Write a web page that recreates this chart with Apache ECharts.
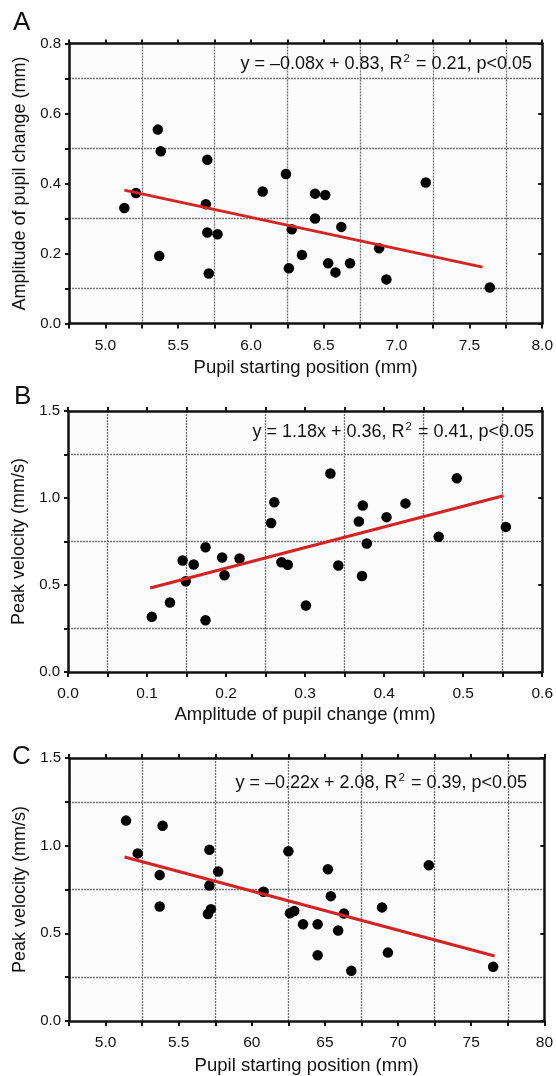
<!DOCTYPE html>
<html><head><meta charset="utf-8">
<script src="https://cdn.jsdelivr.net/npm/echarts@6/dist/echarts.min.js"></script>
<style>html,body{margin:0;padding:0;background:#fff}#c{width:556px;height:1076px}</style>
</head><body><div id="c"></div>
<script>
// ---------- Panel A: pupil starting position vs amplitude of pupil change ----------
const aStart = [5.13,5.21,5.36,5.38,5.37,5.70,5.69,5.70,5.77,5.71,6.08,6.24,6.28,6.26,6.35,6.44,6.51,6.44,6.62,6.53,6.58,6.68,6.88,6.93,7.20,7.64];
const aAmplitude = [0.330,0.373,0.554,0.492,0.193,0.468,0.341,0.260,0.255,0.143,0.377,0.427,0.269,0.158,0.196,0.371,0.367,0.300,0.276,0.172,0.146,0.172,0.215,0.126,0.403,0.103];
const aFitX = [5.13, 7.59];
const aFitY = [0.381, 0.161];
const aXTickValues = [5.0,5.5,6.0,6.5,7.0,7.5,8.0];
const aXTickLabels = ['5.0','5.5','6.0','6.5','7.0','7.5','8.0'];
const aYTickValues = [0.0,0.2,0.4,0.6,0.8];
const aYTickLabels = ['0.0','0.2','0.4','0.6','0.8'];

// ---------- Panel B: amplitude vs peak velocity ----------
const bAmplitude = [0.106,0.129,0.145,0.149,0.159,0.174,0.174,0.195,0.198,0.217,0.257,0.261,0.270,0.278,0.301,0.332,0.342,0.368,0.373,0.372,0.378,0.403,0.427,0.469,0.492,0.554];
const bVelocity = [0.317,0.399,0.641,0.522,0.618,0.717,0.297,0.658,0.556,0.652,0.856,0.976,0.631,0.616,0.382,1.141,0.612,0.865,0.957,0.552,0.739,0.890,0.969,0.777,1.113,0.834];
const bFitX = [0.104, 0.551];
const bFitY = [0.483, 1.013];
const bXTickValues = [0.0,0.1,0.2,0.3,0.4,0.5,0.6];
const bXTickLabels = ['0.0','0.1','0.2','0.3','0.4','0.5','0.6'];
const bYTickValues = [0.0,0.5,1.0,1.5];
const bYTickLabels = ['0.0','0.5','1.0','1.5'];

// ---------- Panel C: pupil starting position vs peak velocity ----------
const cStart = [5.14,5.22,5.39,5.37,5.37,5.71,5.71,5.70,5.72,5.77,6.08,6.25,6.26,6.29,6.35,6.45,6.45,6.52,6.54,6.59,6.63,6.68,6.89,6.93,7.21,7.65];
const cVelocity = [1.143,0.956,1.114,0.832,0.653,0.977,0.773,0.610,0.638,0.853,0.737,0.968,0.615,0.627,0.552,0.552,0.375,0.865,0.712,0.516,0.613,0.286,0.648,0.390,0.888,0.309];
const cFitX = [5.13, 7.66];
const cFitY = [0.935, 0.371];
const cXTickValues = [5.0,5.5,6.0,6.5,7.0,7.5,8.0];
const cXTickLabels = ['5.0','5.5','60','65','70','75','80'];
const cYTickValues = [0.0,0.5,1.0,1.5];
const cYTickLabels = ['0.0','0.5','1.0','1.5'];

const panelLetters = ['A','B','C'];
const eqLeft = ['y = \u20130.08x + 0.83, R', 'y = 1.18x + 0.36, R', 'y = \u20130.22x + 2.08, R'];
const eqRight = [' = 0.21, p<0.05', ' = 0.41, p<0.05', ' = 0.39, p<0.05'];
const xNames = ['Pupil starting position (mm)','Amplitude of pupil change (mm)','Pupil starting position (mm)'];
const yNames = ['Amplitude of pupil change (mm)','Peak velocity (mm/s)','Peak velocity (mm/s)'];

const FONT = '"Liberation Sans", Arial, Helvetica, sans-serif';
const INK = '#111';
const GRIDC = '#737373';

function zip(xs, ys){ return xs.map((x,i)=>[x, ys[i]]); }
function labeler(vals, labels){
  return function(v){
    for (let i=0;i<vals.length;i++){ if (Math.abs(v-vals[i])<1e-6) return labels[i]; }
    return '';
  };
}

const panels = [
  {grid:{left:69,top:43.5,width:477,height:280},
   x:{min:4.75,max:8.0,interval:0.25,split:[GRIDC,'transparent'],tv:aXTickValues,tl:aXTickLabels,gap:35},
   y:{min:0,max:0.8,interval:0.1,split:['transparent',GRIDC],rint:0.2,tv:aYTickValues,tl:aYTickLabels,gap:34},
   pts:zip(aStart,aAmplitude), fit:zip(aFitX,aFitY),
   letter:{x:13,y:23}, eq:{x:532,y:64}},
  {grid:{left:68,top:411,width:478,height:261},
   x:{min:0,max:0.6,interval:0.05,split:['transparent',GRIDC],tv:bXTickValues,tl:bXTickLabels,gap:33},
   y:{min:0,max:1.5,interval:0.25,split:['transparent',GRIDC],rint:0.5,tv:bYTickValues,tl:bYTickLabels,gap:34},
   pts:zip(bAmplitude,bVelocity), fit:zip(bFitX,bFitY),
   letter:{x:14,y:397}, eq:{x:534,y:432}},
  {grid:{left:69,top:758,width:478,height:264},
   x:{min:4.75,max:8.0,interval:0.25,split:[GRIDC,'transparent'],tv:cXTickValues,tl:cXTickLabels,gap:35},
   y:{min:0,max:1.5,interval:0.25,split:['transparent',GRIDC],rint:0.5,tv:cYTickValues,tl:cYTickLabels,gap:34},
   pts:zip(cStart,cVelocity), fit:zip(cFitX,cFitY),
   letter:{x:12,y:757}, eq:{x:527,y:783}}
];

const option = {animation:false, backgroundColor:'#ffffff', grid:[], xAxis:[], yAxis:[], series:[], graphic:[]};
panels.forEach((p,i)=>{
  option.grid.push(Object.assign({show:true, backgroundColor:'#fcfcfc', borderWidth:0, containLabel:false}, p.grid));
  const xi = option.xAxis.length, yi = option.yAxis.length;
  option.xAxis.push({
    gridIndex:i, type:'value', position:'bottom', min:p.x.min, max:p.x.max, interval:p.x.interval,
    axisLine:{show:true,onZero:false,lineStyle:{color:INK,width:2.5}},
    axisTick:{show:true,inside:false,length:5,lineStyle:{color:INK,width:2}},
    axisLabel:{show:true,formatter:labeler(p.x.tv,p.x.tl),fontSize:15.5,color:INK,fontFamily:FONT,margin:14,showMinLabel:true,showMaxLabel:true,hideOverlap:false},
    splitLine:{show:true,lineStyle:{color:p.x.split,type:[2,1],width:1.3}},
    name:xNames[i], nameLocation:'middle', nameGap:p.x.gap,
    nameTextStyle:{fontSize:18.5,color:INK,fontFamily:FONT}
  });
  option.xAxis.push({
    gridIndex:i, type:'value', position:'top', min:p.x.min, max:p.x.max, interval:p.x.interval,
    axisLine:{show:true,onZero:false,lineStyle:{color:INK,width:2.5}},
    axisTick:{show:true,inside:false,length:4,lineStyle:{color:INK,width:2}},
    axisLabel:{show:false}, splitLine:{show:false}
  });
  option.yAxis.push({
    gridIndex:i, type:'value', position:'left', min:p.y.min, max:p.y.max, interval:p.y.interval,
    axisLine:{show:true,onZero:false,lineStyle:{color:INK,width:2.5}},
    axisTick:{show:true,inside:false,length:4,lineStyle:{color:INK,width:2}},
    axisLabel:{show:true,formatter:labeler(p.y.tv,p.y.tl),fontSize:15,color:INK,fontFamily:FONT,margin:8,showMinLabel:true,showMaxLabel:true,hideOverlap:false},
    splitLine:{show:true,lineStyle:{color:p.y.split,type:[2,1],width:1.3}},
    name:yNames[i], nameLocation:'middle', nameGap:p.y.gap,
    nameTextStyle:{fontSize:18,color:INK,fontFamily:FONT}
  });
  option.yAxis.push({
    gridIndex:i, type:'value', position:'right', min:p.y.min, max:p.y.max, interval:p.y.rint,
    axisLine:{show:true,onZero:false,lineStyle:{color:INK,width:2.5}},
    axisTick:{show:true,inside:true,length:4,lineStyle:{color:INK,width:2}},
    axisLabel:{show:false}, splitLine:{show:false}
  });
  option.series.push({
    type:'scatter', xAxisIndex:xi, yAxisIndex:yi, data:p.pts, symbol:'circle', symbolSize:10.5,
    itemStyle:{color:'#000',opacity:1}, z:3, silent:true
  });
  option.series.push({
    type:'line', xAxisIndex:xi, yAxisIndex:yi, data:p.fit, showSymbol:false, symbol:'none',
    lineStyle:{color:'#d62222',width:3,opacity:1}, z:4, silent:true
  });
  option.graphic.push({
    type:'text', x:p.letter.x, y:p.letter.y, z:10,
    style:{text:panelLetters[i], fontSize:26, fontFamily:FONT, fill:INK, verticalAlign:'middle', align:'left'}
  });
  option.graphic.push({
    type:'text', x:p.eq.x, y:p.eq.y, z:10,
    style:{
      text:'{t|'+eqLeft[i]+'}{s|2}{t|'+eqRight[i]+'}',
      fontFamily:FONT, fill:INK, verticalAlign:'middle', align:'right',
      rich:{
        t:{fontSize:18, fontFamily:FONT, fill:INK, color:INK, lineHeight:22},
        s:{fontSize:11.5, fontFamily:FONT, fill:INK, color:INK, lineHeight:22, verticalAlign:'top', padding:[0,1,0,1]}
      }
    }
  });
});

const chart = echarts.init(document.getElementById('c'), null, {renderer:'canvas'});
chart.setOption(option);
</script>
</body></html>
